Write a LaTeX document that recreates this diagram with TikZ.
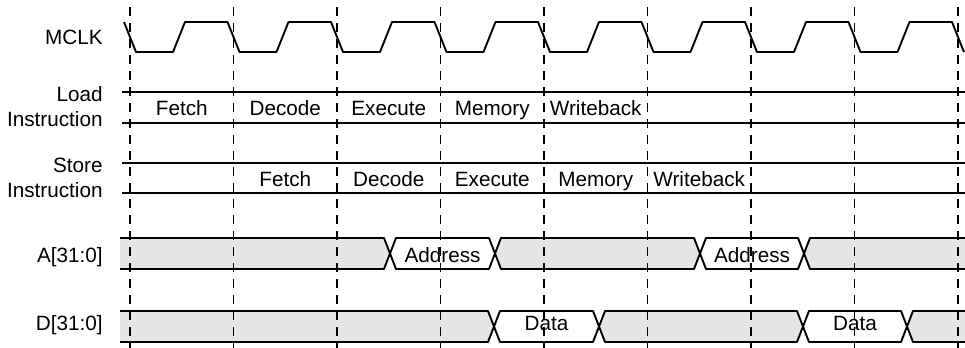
\documentclass[tikz,border=0pt]{standalone}
\usepackage{fontspec}
\setmainfont{Liberation Sans}
\usetikzlibrary{positioning}

\begin{document}
\begin{tikzpicture}[x=0.5pt, y=-0.5pt,
                sig/.style={line width=0.95pt, line join=round},
                bus/.style={sig, fill=gray!20},
                valid/.style={sig, fill=white},
                gridline/.style={line width=0.55pt, dash pattern=on 4.5pt off 3.5pt},
                siglabel/.style={anchor=base east, inner sep=0pt, font=\fontsize{10.35}{12}\selectfont},
                phase/.style={anchor=base, inner sep=0pt, font=\fontsize{10.35}{12}\selectfont}]

                \useasboundingbox (0,0) rectangle (965,348);

                % Signal names
                \node[siglabel] (mclk) at (103,44) {MCLK};
                \node[siglabel] (load) at (103,101.5) {Load};
                \node[siglabel] (loadins) at (103,126) {Instruction};
                \node[siglabel] (store) at (103,172.5) {Store};
                \node[siglabel] (storeins) at (103,197) {Instruction};
                \node[siglabel] (abus) at (103,262) {A[31:0]};
                \node[siglabel] (dbus) at (103,330) {D[31:0]};

                % MCLK
                \draw[sig] (124,22) \foreach \k in {0,...,7} {
                    -- ++(12,30) -- ++(37,0) -- ++(12,-30) -- ++(42.5,0)} -- ++(12,30);

                % Load instruction
                \draw[sig] (122,92) -- (965,92);
                \draw[sig] (122,123) -- (965,123);
                \foreach \txt [count=\k from 0] in {Fetch, Decode, Execute, Memory, Writeback}
                    \node[phase] (ld\k) at (181.75+103.5*\k,115.7) {\txt};

                % Store instruction
                \draw[sig] (122,163) -- (965,163);
                \draw[sig] (122,193) -- (965,193);
                \foreach \txt [count=\k from 1] in {Fetch, Decode, Execute, Memory, Writeback}
                    \node[phase] (st\k) at (181.75+103.5*\k,186.7) {\txt};

                % Address bus
                \draw[bus] (120,238) -- (384,238) -- (390,253.5) -- (384,269) -- (120,269);
                \foreach \a/\b/\s in {390/495/valid, 495/700/bus, 700/804/valid}
                    \draw[\s] (\a,253.5) -- (\a+6,238) -- (\b-6,238) -- (\b,253.5) -- (\b-6,269) -- (\a+6,269) -- cycle;
                \draw[bus] (965,238) -- (810,238) -- (804,253.5) -- (810,269) -- (965,269);
                \node[phase] (addr1) at (442.5,262) {Address};
                \node[phase] (addr2) at (752,262) {Address};

                % Data bus
                \draw[bus] (120,311) -- (488,311) -- (494,326.5) -- (488,342) -- (120,342);
                \foreach \a/\b/\s in {494/599/valid, 599/803/bus, 803/907/valid}
                    \draw[\s] (\a,326.5) -- (\a+6,311) -- (\b-6,311) -- (\b,326.5) -- (\b-6,342) -- (\a+6,342) -- cycle;
                \draw[bus] (965,311) -- (913,311) -- (907,326.5) -- (913,342) -- (965,342);
                \node[phase] (data1) at (546.5,330.5) {Data};
                \node[phase] (data2) at (855,330.5) {Data};

                % Clock edges
                \foreach \k in {0,...,8}
                    \draw[gridline] (130+103.5*\k,7) -- (130+103.5*\k,348);
            \end{tikzpicture}
\end{document}
